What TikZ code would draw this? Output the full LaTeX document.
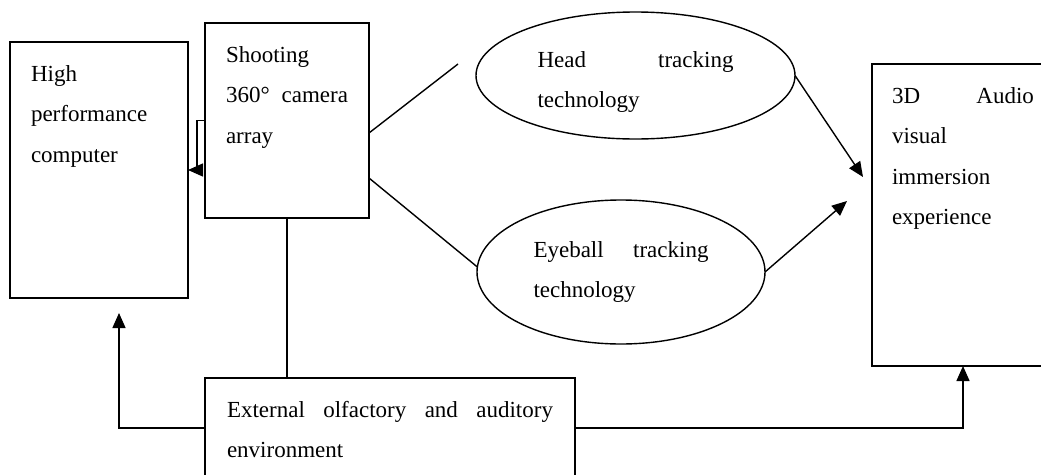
\documentclass[tikz,border=0pt]{standalone}
\usepackage{fontspec}
\setmainfont{Liberation Serif}
\usetikzlibrary{arrows.meta,shapes.geometric}

\begin{document}
\begin{tikzpicture}[
    x=1pt, y=-1pt, line width=1.4pt,
    every node/.style={font=\fontsize{23}{40.5}\selectfont, outer sep=0pt, align=left},
    box/.style={draw, rectangle, inner xsep=21pt, inner ysep=23pt, text height=16pt},
    oval/.style={draw, ellipse, inner sep=0pt, text height=16pt, text depth=45.5pt},
    arr/.style={-{Triangle[length=15pt, width=13pt]}}
  ]
  \useasboundingbox[fill=white] (0,0) rectangle (1041,474);

  % Left column
  \node[box, text width=136pt, text depth=194pt] (hpc) at (99,170) {High\\performance\\computer};
  \node[box, text width=122pt, text depth=133pt] (camera) at (287,120.5) {Shooting\\360°\hfill camera\\array};

  % Tracking ellipses
  \node[oval, minimum width=319pt, minimum height=127pt, text width=196pt, text height=28.5pt] (head) at (635.5,75.5) {Head\hfill tracking\\technology};
  \node[oval, minimum width=288pt, minimum height=144pt, text width=175pt] (eyeball) at (621,272) {Eyeball\hfill tracking\\technology};

  % Right and bottom boxes
  \node[box, inner xsep=20pt, text width=142pt, text depth=240pt] (av) at (963,215) {3D\hfill Audio\\visual\\immersion\\experience};
  \node[box, inner xsep=22pt, text width=326pt, text depth=38pt] (env) at (390,428) {External\hfill olfactory\hfill and\hfill auditory\\environment};

  % Free ends
  \coordinate (headend) at (458,64);
  \coordinate (headin) at (863,177);
  \coordinate (eyein) at (847,201);
  \coordinate (hpcin) at (119,313);

  % Connectors
  \draw[arr] (camera.west) -- ++(-8,0) |- (hpc.east);
  \draw ([yshift=-12.5pt]camera.east) -- (headend);
  \draw ([yshift=-57.5pt]camera.east) -- (eyeball.178);
  \draw[arr] (head.east) -- (headin);
  \draw[arr] (eyeball.east) -- (eyein);
  \draw (camera.south) -- (camera.south |- env.north);
  \draw[arr] (env.west) -| (hpcin);
  \draw[arr] (env.east) -| (av.south);
\end{tikzpicture}
\end{document}
